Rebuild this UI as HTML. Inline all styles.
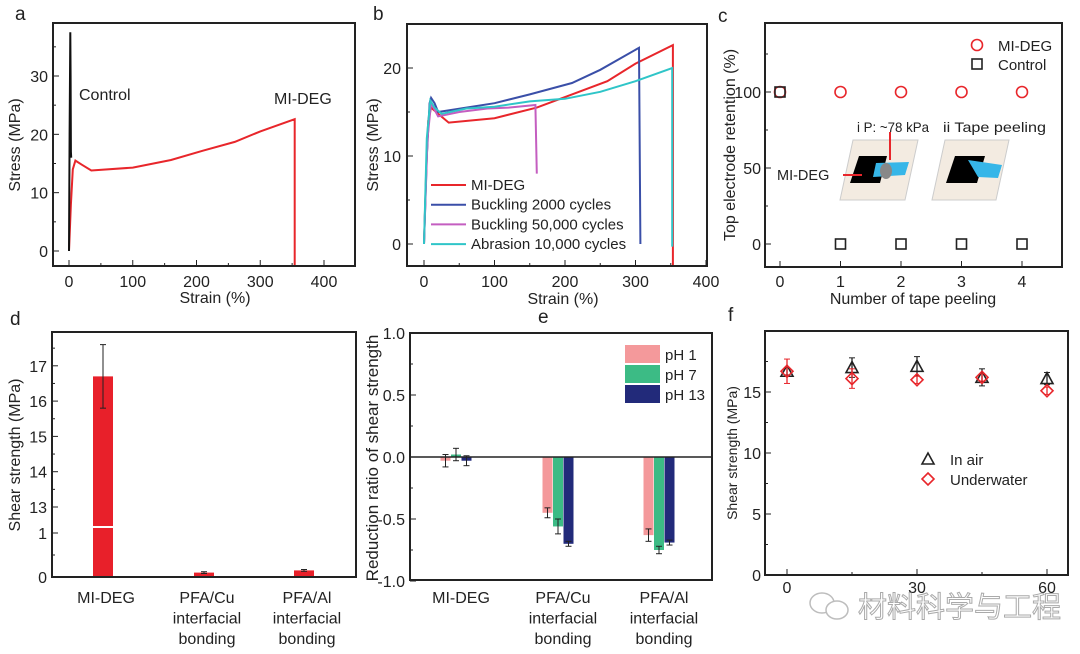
<!DOCTYPE html>
<html><head><meta charset="utf-8"><style>
html,body{margin:0;padding:0;background:#fff;width:1080px;height:654px;overflow:hidden}
svg{display:block;font-family:"Liberation Sans","Noto Sans CJK SC",sans-serif}
</style></head><body>
<svg id="fig" width="1080" height="654" viewBox="0 0 1080 654" xmlns="http://www.w3.org/2000/svg"></svg>
<script>
// ---------- Panel a data ----------
const aCtrlX=[0,1,2,2.5,3,3.5];
const aCtrlY=[0,20,37.5,30,17,16];
const aMiX=[0,3,6,10,20,35,100,160,210,260,300,354,354];
const aMiY=[0,8,14,15.5,14.8,13.8,14.3,15.6,17.2,18.7,20.5,22.6,-2.6];
const aXTicks=[0,100,200,300,400];
const aYTicks=[0,10,20,30];
// ---------- Panel b data ----------
const bSeriesNames=["MI-DEG","Buckling 2000 cycles","Buckling 50,000 cycles","Abrasion 10,000 cycles"];
const bRedX=[0,3,6,10,20,35,100,160,210,260,300,353,353];
const bRedY=[0,8,14,15.5,14.8,13.8,14.3,15.5,17,18.5,20.5,22.6,-2.5];
const bBlueX=[0,4,8,10,15,20,60,100,150,210,250,305,307];
const bBlueY=[0,10,16,16.6,16,15,15.5,16,17,18.3,19.8,22.3,0];
const bMagX=[0,5,10,20,50,90,120,158,160];
const bMagY=[0,12,16,14.5,15,15.4,15.5,15.8,8];
const bCyanX=[0,4,9,15,25,60,100,150,200,250,300,352,352];
const bCyanY=[0,12,16.3,15.5,14.8,15.4,15.6,16.2,16.5,17.3,18.5,20,-0.3];
const bXTicks=[0,100,200,300,400];
const bYTicks=[0,10,20];
// ---------- Panel c data ----------
const cX=[0,1,2,3,4];
const cMi=[100,100,100,100,100];
const cCtrl=[100,0,0,0,0];
const cYTicks=[0,50,100];
// ---------- Panel d data ----------
const dCats=[["MI-DEG"],["PFA/Cu","interfacial","bonding"],["PFA/Al","interfacial","bonding"]];
const dVals=[16.7,0.1,0.15];
const dErr=[0.9,0.02,0.02];
const dYTicks=[13,14,15,16,17];
// ---------- Panel e data ----------
const eCats=[["MI-DEG"],["PFA/Cu","interfacial","bonding"],["PFA/Al","interfacial","bonding"]];
const eSeries=["pH 1","pH 7","pH 13"];
const ePh1=[-0.03,-0.45,-0.63];
const ePh7=[0.02,-0.56,-0.75];
const ePh13=[-0.03,-0.70,-0.69];
const eErr1=[0.05,0.04,0.05];
const eErr7=[0.05,0.06,0.03];
const eErr13=[0.04,0.02,0.02];
const eYTicks=[-1.0,-0.5,0.0,0.5,1.0];
// ---------- Panel f data ----------
const fX=[0,15,30,45,60];
const fAir=[16.7,17.0,17.1,16.2,16.1];
const fAirErr=[0.3,0.8,0.8,0.7,0.5];
const fWater=[16.7,16.1,16.0,16.2,15.1];
const fWaterErr=[1.0,0.8,0.3,0.3,0.3];
const fXTicks=[0,30,60];
const fYTicks=[0,5,10,15];

const NS="http://www.w3.org/2000/svg";
const svg=document.getElementById('fig');
function el(tag,attrs,parent,text){const e=document.createElementNS(NS,tag);for(const k in attrs)e.setAttribute(k,attrs[k]);if(text!==undefined)e.textContent=text;(parent||svg).appendChild(e);return e;}
function lin(d0,d1,r0,r1){return v=>r0+(v-d0)*(r1-r0)/(d1-d0);}
function frame(g,x0,y0,x1,y1){const r=el('rect',{x:x0,y:y0,width:x1-x0,height:y1-y0,fill:'none',stroke:'#222','stroke-width':2},g);}
function txt(g,x,y,s,opts,name){const t=el('text',Object.assign({x:x,y:y,'font-size':16,fill:'#222'},opts||{}),g,s);return t;}
function vtitle(g,x,y,s,fs,name){const t=el('text',{x:0,y:0,'font-size':fs,fill:'#222','text-anchor':'middle',transform:`translate(${x},${y}) rotate(-90)`},g,s);}
function poly(g,xs,ys,sx,sy,color,name){let d='';xs.forEach((v,i)=>{d+=(i?'L':'M')+sx(v).toFixed(1)+','+sy(ys[i]).toFixed(1);});const p=el('path',{d:d,fill:'none',stroke:color,'stroke-width':2},g);}
function group(name){const g=el('g',{},svg);return g;}

// ===== Panel a =====
(function(){
const g=group('panel-a');
const X0=53,X1=355;
const sx=lin(0,400,69,324), sy=lin(0,30,251,76);
txt(g,15,20,'a',{'font-size':19},'panel-label-a');
aXTicks.forEach(v=>{el('line',{x1:sx(v),x2:sx(v),y1:266,y2:260,stroke:'#222'},g);txt(g,sx(v),287,String(v),{'text-anchor':'middle'},'x-tick-label');});
[50,150,250,350].forEach(v=>el('line',{x1:sx(v),x2:sx(v),y1:266,y2:263,stroke:'#222'},g));
aYTicks.forEach(v=>{el('line',{x1:X0,x2:X0+6,y1:sy(v),y2:sy(v),stroke:'#222'},g);txt(g,X0-5,sy(v)+6,String(v),{'text-anchor':'end'},'y-tick-label');});
[5,15,25,35].forEach(v=>el('line',{x1:X0,x2:X0+3,y1:sy(v),y2:sy(v),stroke:'#222'},g));
poly(g,aMiX,aMiY,sx,sy,'#e8262b','mi-deg-curve');
poly(g,aCtrlX,aCtrlY,sx,sy,'#111','control-curve');
frame(g,X0,23,X1,266);
txt(g,79,100,'Control',{},'control-annotation');
txt(g,274,104,'MI-DEG',{},'mi-deg-annotation');
txt(g,215,303,'Strain (%)',{'text-anchor':'middle'},'x-axis-title');
vtitle(g,20,145,'Stress (MPa)',16,'y-axis-title');
})();

// ===== Panel b =====
(function(){
const g=group('panel-b');
const X0=407,X1=707;
const sx=lin(0,400,424,706), sy=lin(0,20,244,68);
txt(g,373,20,'b',{'font-size':19},'panel-label-b');
bXTicks.forEach(v=>{el('line',{x1:sx(v),x2:sx(v),y1:266,y2:260,stroke:'#222'},g);txt(g,sx(v),287,String(v),{'text-anchor':'middle'},'x-tick-label');});
[50,150,250,350].forEach(v=>el('line',{x1:sx(v),x2:sx(v),y1:266,y2:263,stroke:'#222'},g));
bYTicks.forEach(v=>{el('line',{x1:X0,x2:X0+6,y1:sy(v),y2:sy(v),stroke:'#222'},g);txt(g,X0-6,sy(v)+6,String(v),{'text-anchor':'end'},'y-tick-label');});
[5,15].forEach(v=>el('line',{x1:X0,x2:X0+3,y1:sy(v),y2:sy(v),stroke:'#222'},g));
const cols=['#e8262b','#3a4fa8','#c45ec0','#2fc5c8'];
poly(g,bRedX,bRedY,sx,sy,cols[0],'mi-deg-curve');
poly(g,bBlueX,bBlueY,sx,sy,cols[1],'buckling-2000-curve');
poly(g,bMagX,bMagY,sx,sy,cols[2],'buckling-50000-curve');
poly(g,bCyanX,bCyanY,sx,sy,cols[3],'abrasion-curve');
bSeriesNames.forEach((n,i)=>{const y=185+i*19.7;const l=el('line',{x1:431,x2:466,y1:y,y2:y,stroke:cols[i],'stroke-width':2},g);txt(g,471,y+5,n,{'font-size':15},'legend-entry');});
frame(g,X0,24,X1,266);
txt(g,563,304,'Strain (%)',{'text-anchor':'middle'},'x-axis-title');
vtitle(g,378,145,'Stress (MPa)',16,'y-axis-title');
})();

// ===== Panel c =====
(function(){
const g=group('panel-c');
const sx=lin(0,4,780,1022), sy=lin(0,100,244,92);
txt(g,718,22,'c',{'font-size':19},'panel-label-c');
cX.forEach(v=>{el('line',{x1:sx(v),x2:sx(v),y1:267,y2:261,stroke:'#222'},g);txt(g,sx(v),287,String(v),{'text-anchor':'middle'},'x-tick-label');});
cYTicks.forEach(v=>{el('line',{x1:765,x2:771,y1:sy(v),y2:sy(v),stroke:'#222'},g);txt(g,761,sy(v)+6,String(v),{'text-anchor':'end'},'y-tick-label');});
[25,75,125].forEach(v=>el('line',{x1:765,x2:768,y1:sy(v),y2:sy(v),stroke:'#222'},g));
const ins=el('g',{},g);
el('polygon',{points:'853,140 918,140 905,200 840,200',fill:'#f3ebe1',stroke:'#ccc'},ins);
el('polygon',{points:'859,156 887,156 880,183 850,183',fill:'#000'},ins);
el('polygon',{points:'876,163 909,162 905,175 873,177',fill:'#36b6e8'},ins);
el('ellipse',{cx:886,cy:171,rx:6,ry:8,fill:'#888'},ins);
el('line',{x1:890,x2:890,y1:132,y2:160,stroke:'#e8262b','stroke-width':2},ins);
el('line',{x1:843,x2:862,y1:175,y2:175,stroke:'#e8262b','stroke-width':2},ins);
el('polygon',{points:'945,140 1009,140 996,200 932,200',fill:'#f3ebe1',stroke:'#ccc'},ins);
el('polygon',{points:'955,156 985,156 977,183 946,183',fill:'#000'},ins);
el('polygon',{points:'968,160 1002,165 998,178 978,177',fill:'#36b6e8'},ins);
txt(g,857,132,'i P: ~78 kPa',{'font-size':14,textLength:72,lengthAdjust:'spacingAndGlyphs'},'inset-label-pressure');
txt(g,943,132,'ii Tape peeling',{'font-size':14,textLength:103,lengthAdjust:'spacingAndGlyphs'},'inset-label-peeling');
txt(g,777,180,'MI-DEG',{'font-size':14.5},'inset-label-mideg');
cX.forEach((v,i)=>{const c=el('circle',{cx:sx(v),cy:sy(cMi[i]),r:5.5,fill:'none',stroke:'#e8262b','stroke-width':1.6},g);});
cX.forEach((v,i)=>{const r=el('rect',{x:sx(v)-5,y:sy(cCtrl[i])-5,width:10,height:10,fill:'none',stroke:'#222','stroke-width':1.6},g);});
el('circle',{cx:977,cy:45,r:5.5,fill:'none',stroke:'#e8262b','stroke-width':1.6},g);
txt(g,998,51,'MI-DEG',{'font-size':15},'legend-entry');
el('rect',{x:972,y:59,width:10,height:10,fill:'none',stroke:'#222','stroke-width':1.6},g);
txt(g,998,70,'Control',{'font-size':15},'legend-entry');
frame(g,765,23,1062,267);
txt(g,913,304,'Number of tape peeling',{'text-anchor':'middle'},'x-axis-title');
vtitle(g,735,145,'Top electrode retention (%)',16,'y-axis-title');
})();

// ===== Panel d =====
(function(){
const g=group('panel-d');
const yD=v=> v<=1.2 ? 577-v*44 : 507-(v-13)*35.3;
txt(g,10,325,'d',{'font-size':19},'panel-label-d');
const cx=[103,204,304];
dYTicks.forEach(v=>{el('line',{x1:52,x2:58,y1:yD(v),y2:yD(v),stroke:'#222'},g);txt(g,47,yD(v)+6,String(v),{'text-anchor':'end'},'y-tick-label');});
[13.5,14.5,15.5,16.5,17.5].forEach(v=>el('line',{x1:52,x2:55,y1:yD(v),y2:yD(v),stroke:'#222'},g));
[0.5].forEach(v=>el('line',{x1:52,x2:55,y1:yD(v),y2:yD(v),stroke:'#222'},g));
el('line',{x1:52,x2:58,y1:yD(1),y2:yD(1),stroke:'#222'},g);
txt(g,47,yD(0)+6,'0',{'text-anchor':'end'},'y-tick-label');
txt(g,47,yD(1)+6,'1',{'text-anchor':'end'},'y-tick-label');
dVals.forEach((v,i)=>{const top=yD(v);const b=el('rect',{x:cx[i]-10,y:top,width:20,height:577-top,fill:'#e8202a'},g);
 const y1=yD(v+dErr[i]),y2=yD(v-dErr[i]);el('line',{x1:cx[i],x2:cx[i],y1:y1,y2:y2,stroke:'#222'},g);el('line',{x1:cx[i]-3,x2:cx[i]+3,y1:y1,y2:y1,stroke:'#222'},g);el('line',{x1:cx[i]-3,x2:cx[i]+3,y1:y2,y2:y2,stroke:'#222'},g);});
el('rect',{x:cx[0]-11,y:526,width:22,height:2,fill:'#fff'},g);
frame(g,52,332,356,577);
dCats.forEach((c,i)=>c.forEach((s,j)=>txt(g,cx[i]+3,603+j*20.5,s,{'text-anchor':'middle','font-size':16},'x-category-label')));
vtitle(g,20,455,'Shear strength (MPa)',16,'y-axis-title');
})();

// ===== Panel e =====
(function(){
const g=group('panel-e');
const sy=lin(0,1,457,333);
txt(g,538,323,'e',{'font-size':19},'panel-label-e');
eYTicks.forEach(v=>{el('line',{x1:410,x2:416,y1:sy(v),y2:sy(v),stroke:'#222'},g);txt(g,405,sy(v)+6,v.toFixed(1),{'text-anchor':'end'},'y-tick-label');});
[-0.75,-0.25,0.25,0.75].forEach(v=>el('line',{x1:410,x2:413,y1:sy(v),y2:sy(v),stroke:'#222'},g));
const centers=[456,558,659];
const cols=['#f4999b','#3cbb85','#222a7a'];
const vals=[ePh1,ePh7,ePh13], errs=[eErr1,eErr7,eErr13];
vals.forEach((arr,s)=>arr.forEach((v,i)=>{const x=centers[i]+(s-1)*10.5-5;const y0=sy(0),y1=sy(v);const r=el('rect',{x:x,y:Math.min(y0,y1),width:10,height:Math.abs(y1-y0),fill:cols[s]},g);
 const c=x+5,a=sy(v+errs[s][i]),b=sy(v-errs[s][i]);el('line',{x1:c,x2:c,y1:a,y2:b,stroke:'#222'},g);el('line',{x1:c-3,x2:c+3,y1:a,y2:a,stroke:'#222'},g);el('line',{x1:c-3,x2:c+3,y1:b,y2:b,stroke:'#222'},g);}));
el('line',{x1:410,x2:712,y1:sy(0),y2:sy(0),stroke:'#222','stroke-width':1.5},g);
eSeries.forEach((n,i)=>{const r=el('rect',{x:625,y:345+i*20,width:35,height:18,fill:cols[i]},g);txt(g,665,360+i*20,n,{'font-size':15},'legend-entry');});
frame(g,410,333,712,580);
eCats.forEach((c,i)=>c.forEach((s,j)=>txt(g,centers[i]+5,603+j*20.5,s,{'text-anchor':'middle','font-size':16},'x-category-label')));
vtitle(g,378,458,'Reduction ratio of shear strength',17,'y-axis-title');
})();

// ===== Panel f =====
(function(){
const g=group('panel-f');
const sx=lin(0,60,787,1047), sy=lin(0,15,575,392);
txt(g,728,321,'f',{'font-size':19},'panel-label-f');
fXTicks.forEach(v=>{el('line',{x1:sx(v),x2:sx(v),y1:575,y2:569,stroke:'#222'},g);txt(g,sx(v),593,String(v),{'text-anchor':'middle'},'x-tick-label');});
[15,45].forEach(v=>el('line',{x1:sx(v),x2:sx(v),y1:575,y2:572,stroke:'#222'},g));
fYTicks.forEach(v=>{el('line',{x1:765,x2:771,y1:sy(v),y2:sy(v),stroke:'#222'},g);txt(g,761,sy(v)+6,String(v),{'text-anchor':'end'},'y-tick-label');});
[2.5,7.5,12.5,17.5].forEach(v=>el('line',{x1:765,x2:768,y1:sy(v),y2:sy(v),stroke:'#222'},g));
function eb(x,v,e,c){const a=sy(v+e),b=sy(v-e);el('line',{x1:x,x2:x,y1:a,y2:b,stroke:c,'stroke-width':1.3},g);el('line',{x1:x-3,x2:x+3,y1:a,y2:a,stroke:c},g);el('line',{x1:x-3,x2:x+3,y1:b,y2:b,stroke:c},g);}
fX.forEach((v,i)=>{const x=sx(v);eb(x,fAir[i],fAirErr[i],'#222');const y=sy(fAir[i]);const t=el('polygon',{points:`${x},${y-6} ${x-6},${y+5} ${x+6},${y+5}`,fill:'none',stroke:'#222','stroke-width':1.6},g);});
fX.forEach((v,i)=>{const x=sx(v);eb(x,fWater[i],fWaterErr[i],'#e8262b');const y=sy(fWater[i]);const d=el('polygon',{points:`${x},${y-6} ${x+6},${y} ${x},${y+6} ${x-6},${y}`,fill:'none',stroke:'#e8262b','stroke-width':1.6},g);});
el('polygon',{points:'928,453 922,464 934,464',fill:'none',stroke:'#222','stroke-width':1.6},g);
txt(g,950,465,'In air',{'font-size':15},'legend-entry');
el('polygon',{points:'928,473 934,479 928,485 922,479',fill:'none',stroke:'#e8262b','stroke-width':1.6},g);
txt(g,950,485,'Underwater',{'font-size':15},'legend-entry');
frame(g,765,331,1068,575);
vtitle(g,737,453,'Shear strength (MPa)',14,'y-axis-title');
const wm=el('g',{opacity:0.55},g);
el('ellipse',{cx:822,cy:603,rx:12,ry:10,fill:'#fff',stroke:'#888','stroke-width':1.5},wm);
el('ellipse',{cx:837,cy:610,rx:11,ry:9,fill:'#fff',stroke:'#888','stroke-width':1.5},wm);
txt(wm,858,617,'材料科学与工程',{'font-size':29,fill:'#fff',stroke:'#666','stroke-width':1},'watermark-text');
})();
</script>
</body></html>
